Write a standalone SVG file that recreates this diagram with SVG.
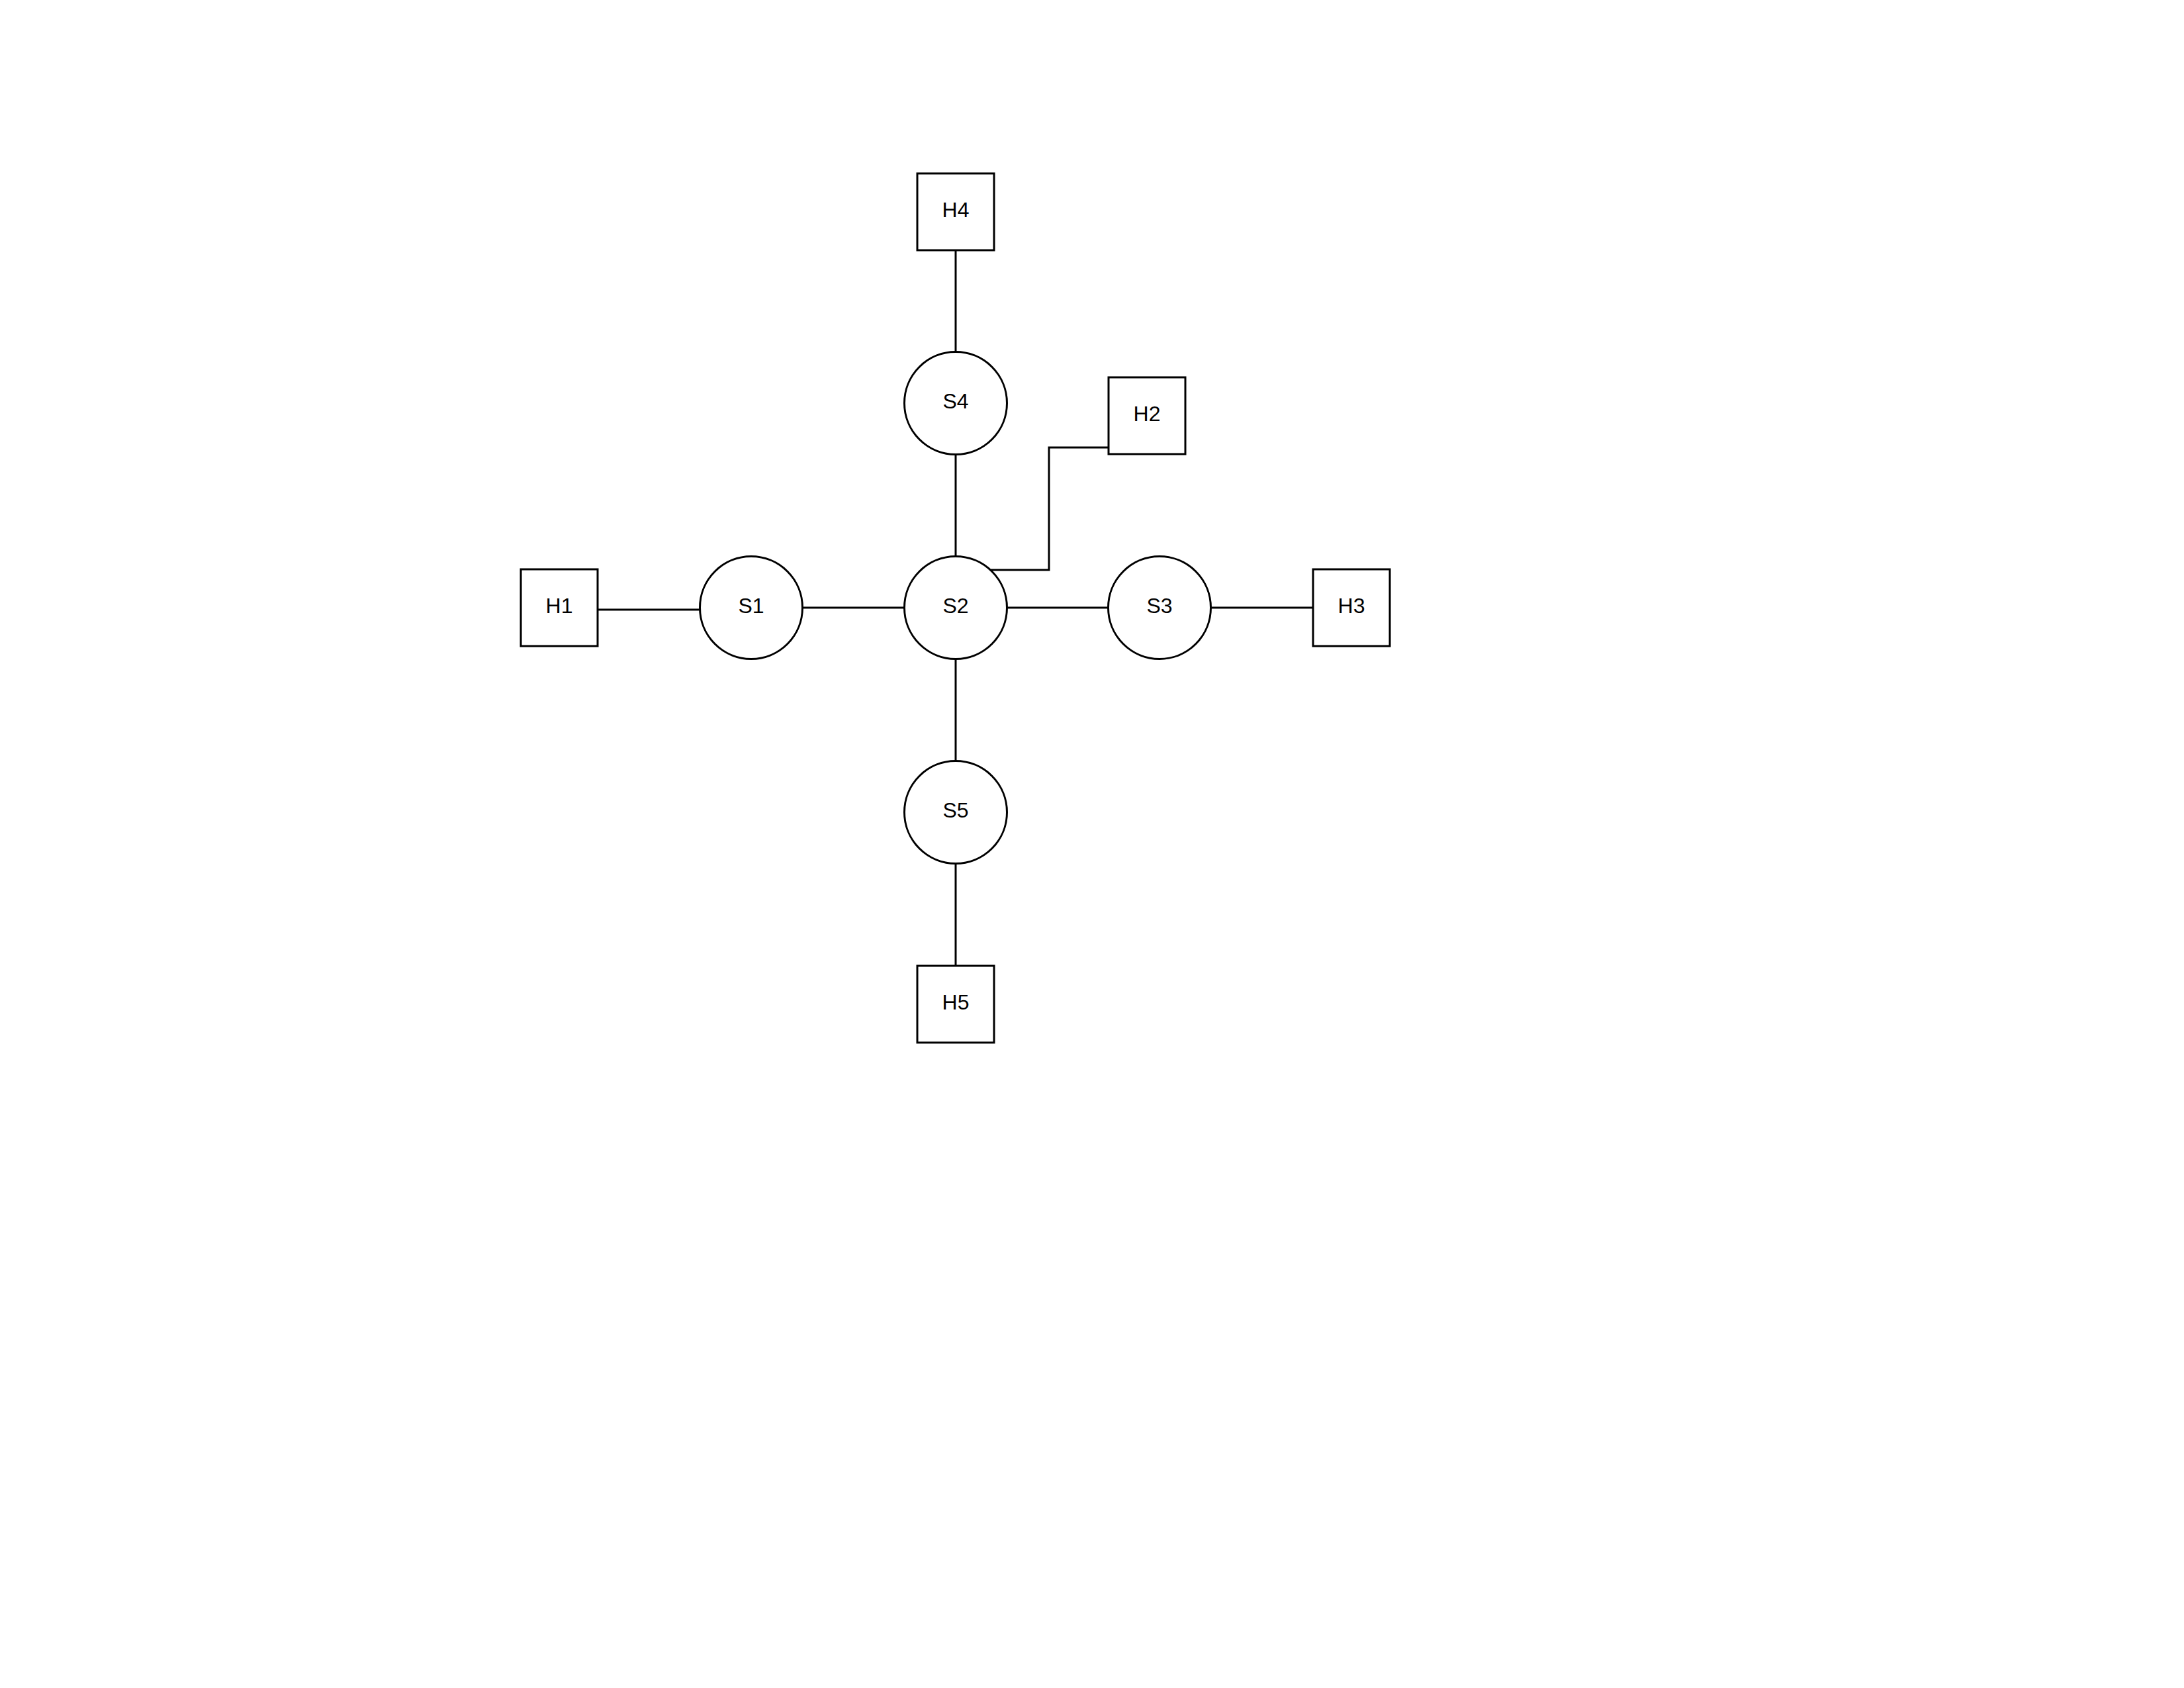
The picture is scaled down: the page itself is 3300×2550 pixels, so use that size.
<svg xmlns="http://www.w3.org/2000/svg" width="3300" height="2550" viewBox="0 0 3300 2550">
<style>
.n{fill:#fff;stroke:#000;stroke-width:3}
.e{fill:none;stroke:#000;stroke-width:3}
.t{font-family:"Liberation Sans",Arial,sans-serif;font-size:32px;fill:#000;text-anchor:middle}
</style>
<rect width="3300" height="2550" fill="#fff"/>
<g id="connectors">
<line class="e" x1="1444" y1="378" x2="1444" y2="532"/>
<line class="e" x1="1444" y1="687" x2="1444" y2="841"/>
<line class="e" x1="1444" y1="995" x2="1444" y2="1149"/>
<line class="e" x1="1444" y1="1305" x2="1444" y2="1459"/>
<line class="e" x1="903" y1="921" x2="1057" y2="921"/>
<line class="e" x1="1213" y1="918" x2="1366" y2="918"/>
<line class="e" x1="1521" y1="918" x2="1675" y2="918"/>
<line class="e" x1="1830" y1="918" x2="1984" y2="918"/>
<polyline class="e" points="1495,861 1585,861 1585,676 1675,676"/>
</g>
<g id="H4"><rect class="n" x="1386" y="262" width="116" height="116"/><text class="t" x="1444" y="328">H4</text></g>
<g id="H2"><rect class="n" x="1675" y="570" width="116" height="116"/><text class="t" x="1733" y="636">H2</text></g>
<g id="H1"><rect class="n" x="787" y="860" width="116" height="116"/><text class="t" x="845" y="926">H1</text></g>
<g id="H3"><rect class="n" x="1984" y="860" width="116" height="116"/><text class="t" x="2042" y="926">H3</text></g>
<g id="H5"><rect class="n" x="1386" y="1459" width="116" height="116"/><text class="t" x="1444" y="1525">H5</text></g>
<g id="S4"><circle class="n" cx="1444" cy="609" r="77.5"/><text class="t" x="1444" y="617">S4</text></g>
<g id="S1"><circle class="n" cx="1135" cy="918" r="77.5"/><text class="t" x="1135" y="926">S1</text></g>
<g id="S2"><circle class="n" cx="1444" cy="918" r="77.5"/><text class="t" x="1444" y="926">S2</text></g>
<g id="S3"><circle class="n" cx="1752" cy="918" r="77.5"/><text class="t" x="1752" y="926">S3</text></g>
<g id="S5"><circle class="n" cx="1444" cy="1227" r="77.5"/><text class="t" x="1444" y="1235">S5</text></g>
</svg>
